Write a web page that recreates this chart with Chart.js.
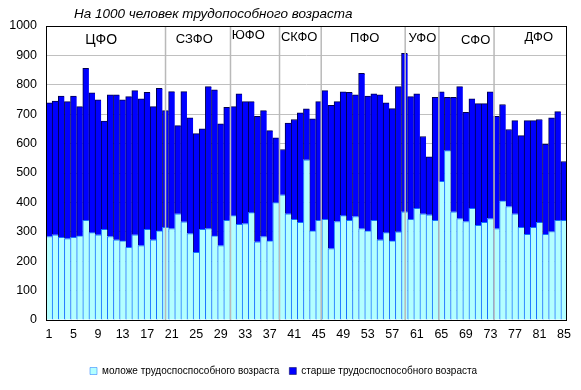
<!DOCTYPE html>
<html>
<head>
<meta charset="utf-8">
<script src="https://cdn.jsdelivr.net/npm/chart.js@4.4.0/dist/chart.umd.min.js"></script>
<style>
  html, body { margin: 0; padding: 0; background: #fff; }
  #wrap { width: 581px; height: 390px; }
</style>
</head>
<body>
<div id="wrap"><canvas id="myChart" width="581" height="390"></canvas></div>
<script>
'use strict';

////////////////// datos //////////////////
// regiones 1..85
var regiones = Array.from({ length: 85 }, (_, i) => String(i + 1));

var serieMoloze = 'моложе трудоспоспособного возраста';
var serieStarshe = 'старше трудоспоспособного возраста';

// моложе трудоспособного возраста (на 1000)
var moloze = [
    284, 290, 281, 277, 281, 286, 339, 297, 290, 308,
    284, 273, 269, 247, 290, 253, 308, 273, 303, 315,
    311, 361, 334, 294, 230, 308, 311, 286, 253, 339,
    355, 325, 328, 365, 266, 284, 269, 399, 426, 361,
    342, 332, 545, 303, 339, 342, 243, 335, 355, 339,
    352, 311, 303, 339, 273, 297, 269, 300, 368, 342,
    380, 361, 358, 339, 472, 576, 368, 345, 335, 380,
    322, 332, 345, 311, 405, 386, 361, 315, 291, 315,
    332, 291, 301, 339, 339
];

// старше трудоспособного возраста (на 1000)
var starshe = [
    455, 455, 481, 466, 481, 440, 517, 476, 459, 369,
    482, 493, 480, 513, 490, 499, 466, 453, 485, 397,
    466, 300, 443, 394, 404, 342, 483, 497, 414, 384,
    371, 444, 415, 378, 427, 428, 375, 221, 154, 309,
    340, 373, 173, 381, 404, 438, 487, 408, 421, 435,
    414, 528, 459, 430, 493, 442, 450, 494, 539, 418,
    389, 263, 197, 418, 304, 181, 389, 449, 371, 372,
    414, 404, 431, 382, 328, 262, 317, 312, 387, 363,
    350, 307, 387, 370, 200
];

var titulo = 'На 1000 человек трудопособного возраста';
var okruga = ['ЦФО', 'СЗФО', 'ЮФО', 'СКФО', 'ПФО', 'УФО', 'СФО', 'ДФО'];

////////////////// layout de anotaciones //////////////////
// separadores (en unidades de categoria)
var separadores = [19.0, 29.6, 37.6, 44.4, 58.1, 63.6, 72.6];
// centro de cada etiqueta de okrug (categoria) y su altura en px
var okrugX = [8.5, 23.7, 32.5, 40.8, 51.5, 60.9, 69.6, 79.9];
var okrugY = [40, 39, 35, 37, 38, 38, 40, 37];

const FONT = "'Liberation Sans', Arial, sans-serif";
Chart.defaults.font.family = FONT;
Chart.defaults.color = '#000';

const anotaciones = {
    id: 'anotaciones',
    afterDatasetsDraw(chart) {
        const ctx = chart.ctx;
        const a = chart.chartArea;
        const x = chart.scales.x;
        ctx.save();
        // lineas de separacion
        ctx.strokeStyle = '#b9b9b9';
        ctx.lineWidth = 1.5;
        separadores.forEach(v => {
            const px = x.getPixelForValue(v);
            ctx.beginPath();
            ctx.moveTo(px, a.top);
            ctx.lineTo(px, a.bottom);
            ctx.stroke();
        });
        // marco
        ctx.strokeStyle = '#000';
        ctx.lineWidth = 1;
        ctx.strokeRect(Math.round(a.left) + 0.5, Math.round(a.top) + 0.5,
            Math.round(a.right - a.left) - 1, Math.round(a.bottom - a.top));
        // okruga
        ctx.fillStyle = '#000';
        ctx.textAlign = 'center';
        ctx.textBaseline = 'middle';
        okruga.forEach((n, i) => {
            ctx.font = (i === 0 ? '14px ' : '13px ') + FONT;
            ctx.fillText(n, x.getPixelForValue(okrugX[i]), okrugY[i]);
        });
        // titulo
        ctx.font = 'italic 13.5px ' + FONT;
        ctx.textAlign = 'left';
        ctx.fillText(titulo, 74, 14);
        ctx.restore();
    }
};

var ctx = document.getElementById('myChart').getContext('2d');
var myChart = new Chart(ctx, {
    type: 'bar',
    data: {
        labels: regiones,
        datasets: [{
            label: serieMoloze,
            data: moloze,
            backgroundColor: '#b3ffff',
            borderColor: '#1470ff',
            borderWidth: { top: 1, left: 1, right: 0, bottom: 0 },
            categoryPercentage: 1,
            barPercentage: 1
        }, {
            label: serieStarshe,
            data: starshe,
            backgroundColor: '#0000ff',
            borderColor: '#00004a',
            borderWidth: { top: 1, left: 1, right: 0, bottom: 0 },
            categoryPercentage: 1,
            barPercentage: 1
        }]
    },
    options: {
        responsive: false,
        animation: false,
        layout: { padding: { top: 26, right: 14, left: 0, bottom: 4 } },
        plugins: {
            legend: {
                position: 'bottom',
                labels: {
                    boxWidth: 7,
                    boxHeight: 7,
                    padding: 10,
                    font: { size: 10 }
                }
            },
            tooltip: { enabled: false }
        },
        scales: {
            x: {
                stacked: true,
                grid: { display: false, drawTicks: false },
                border: { display: false },
                ticks: {
                    autoSkip: false,
                    maxRotation: 0,
                    padding: 7,
                    font: { size: 12.5 },
                    callback: function (val, idx) {
                        return idx % 4 === 0 ? this.getLabelForValue(val) : '';
                    }
                },
                afterFit: function (s) { s.height = 36; }
            },
            y: {
                stacked: true,
                min: 0,
                max: 1000,
                grid: { color: '#c0c0c0', lineWidth: 1, drawTicks: false },
                border: { display: false },
                ticks: {
                    stepSize: 100,
                    padding: 9,
                    font: { size: 12.5 },
                    callback: function (v) { return String(v); }
                },
                afterFit: function (s) { s.width = 46; }
            }
        }
    },
    plugins: [anotaciones]
});
</script>
</body>
</html>
